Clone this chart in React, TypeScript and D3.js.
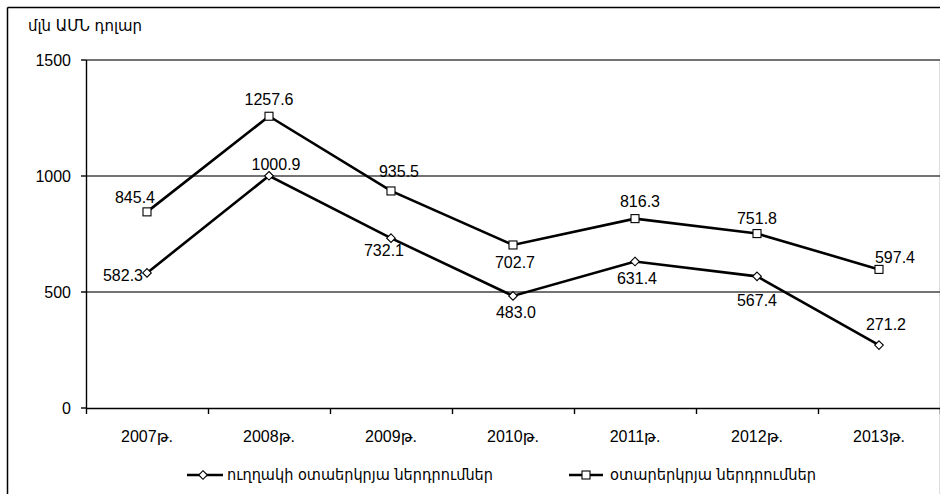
import React from "react";
import * as d3 from "d3";

const categories = ["2007թ.", "2008թ.", "2009թ.", "2010թ.", "2011թ.", "2012թ.", "2013թ."];
const directInvestments = [582.3, 1000.9, 732.1, 483.0, 631.4, 567.4, 271.2];
const foreignInvestments = [845.4, 1257.6, 935.5, 702.7, 816.3, 751.8, 597.4];
const yTicks = [0, 500, 1000, 1500];
const seriesNames = ["ուղղակի օտաերկրյա ներդրումներ", "օտարերկրյա ներդրումներ"];
const yTitle = "մլն ԱՄՆ դոլար";

// label offsets relative to point (style, not data)
const directLabelOffsets: [number, number][] = [
  [-24, 8], [7, -6], [-7, 18], [3, 22], [2, 22], [0, 30], [7, -15],
];
const foreignLabelOffsets: [number, number][] = [
  [-12, -9], [0, -11], [8, -14], [2, 23], [5, -12], [0, -10], [16, -6],
];

const W = 940;
const H = 494;
const FONT = "'Liberation Sans', Arial, 'DejaVu Sans', sans-serif";
const ARM_FONT = "'DejaVu Sans', sans-serif";

export default function App() {
  const x = d3.scaleBand<string>().domain(categories).range([86, 940]);
  const y = d3.scaleLinear().domain([0, 1500]).range([408, 60]);
  const cx = (c: string) => (x(c) as number) + x.bandwidth() / 2;

  const line = d3
    .line<number>()
    .x((_, i) => cx(categories[i]))
    .y((d) => y(d));

  const boundaries = categories.map((c) => x(c) as number).concat([x.range()[1]]);

  const diamond = (px: number, py: number, s = 4.3) =>
    `M${px},${py - s}L${px + s},${py}L${px},${py + s}L${px - s},${py}Z`;

  return (
    <svg
      width={W}
      height={H}
      style={{ position: "absolute", left: 0, top: 0, background: "#fff" }}
      fontFamily={FONT}
    >
      <rect x={0} y={0} width={W} height={H} fill="#fff" />
      {/* frame */}
      <line x1={7.5} y1={7.5} x2={940} y2={7.5} stroke="#000" strokeWidth={1.5} />
      <line x1={7.5} y1={7.5} x2={7.5} y2={494} stroke="#000" strokeWidth={1.5} />
      <line x1={939.5} y1={60} x2={939.5} y2={494} stroke="#ddd" strokeWidth={1} />

      {/* y title */}
      <text x={28} y={31} fontSize={15} fill="#000" fontFamily={ARM_FONT} textLength={114} lengthAdjust="spacingAndGlyphs">
        {yTitle}
      </text>

      {/* gridlines */}
      {yTicks.filter((t) => t > 0).map((t) => (
        <line key={t} x1={86} x2={940} y1={y(t)} y2={y(t)} stroke="#444" strokeWidth={1.4} />
      ))}

      {/* y axis */}
      <line x1={86.5} x2={86.5} y1={60} y2={408} stroke="#000" strokeWidth={1.4} />
      {yTicks.map((t) => (
        <g key={t}>
          <line x1={81} x2={86} y1={y(t)} y2={y(t)} stroke="#000" strokeWidth={1.4} />
          <text x={71} y={y(t)} dy="0.4em" textAnchor="end" fontSize={16} fill="#000">
            {t}
          </text>
        </g>
      ))}

      {/* x axis */}
      <line x1={86} x2={940} y1={408.5} y2={408.5} stroke="#000" strokeWidth={1.6} />
      {boundaries.map((b, i) => (
        <line key={i} x1={b + 0.5} x2={b + 0.5} y1={408} y2={414} stroke="#000" strokeWidth={1.4} />
      ))}
      {categories.map((c) => (
        <text key={c} x={cx(c)} y={442} textAnchor="middle" fontSize={16} fill="#000">
          {c}
        </text>
      ))}

      {/* lines */}
      <path d={line(foreignInvestments) as string} fill="none" stroke="#000" strokeWidth={2.6} />
      <path d={line(directInvestments) as string} fill="none" stroke="#000" strokeWidth={2.6} />

      {/* markers */}
      {foreignInvestments.map((v, i) => (
        <rect
          key={"f" + i}
          x={cx(categories[i]) - 4}
          y={y(v) - 4}
          width={8}
          height={8}
          fill="#fff"
          stroke="#000"
          strokeWidth={1.1}
        />
      ))}
      {directInvestments.map((v, i) => (
        <path key={"d" + i} d={diamond(cx(categories[i]), y(v))} fill="#fff" stroke="#000" strokeWidth={1.1} />
      ))}

      {/* data labels */}
      {foreignInvestments.map((v, i) => (
        <text
          key={"fl" + i}
          x={cx(categories[i]) + foreignLabelOffsets[i][0]}
          y={y(v) + foreignLabelOffsets[i][1]}
          textAnchor="middle"
          fontSize={16}
          fill="#000"
        >
          {v.toFixed(1)}
        </text>
      ))}
      {directInvestments.map((v, i) => (
        <text
          key={"dl" + i}
          x={cx(categories[i]) + directLabelOffsets[i][0]}
          y={y(v) + directLabelOffsets[i][1]}
          textAnchor="middle"
          fontSize={16}
          fill="#000"
        >
          {v.toFixed(1)}
        </text>
      ))}

      {/* legend */}
      <g>
        <line x1={187} x2={223} y1={475} y2={475} stroke="#000" strokeWidth={2.6} />
        <path d={diamond(203, 475)} fill="#fff" stroke="#000" strokeWidth={1.1} />
        <text x={227} y={480} fontSize={16} fill="#000" fontFamily={ARM_FONT} textLength={266} lengthAdjust="spacingAndGlyphs">
          {seriesNames[0]}
        </text>

        <line x1={569} x2={603} y1={475} y2={475} stroke="#000" strokeWidth={2.6} />
        <rect x={582} y={471} width={8} height={8} fill="#fff" stroke="#000" strokeWidth={1.1} />
        <text x={610} y={480} fontSize={16} fill="#000" fontFamily={ARM_FONT} textLength={206} lengthAdjust="spacingAndGlyphs">
          {seriesNames[1]}
        </text>
      </g>
    </svg>
  );
}
